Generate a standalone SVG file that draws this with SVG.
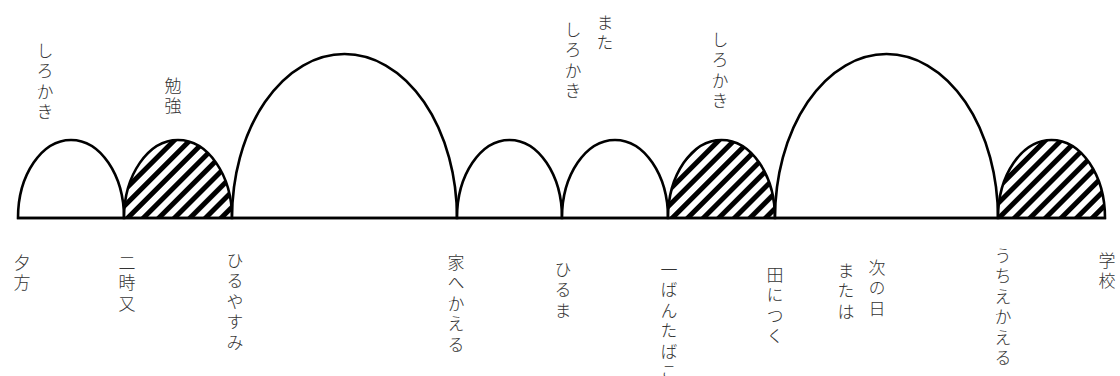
<svg xmlns="http://www.w3.org/2000/svg" width="1120" height="376" viewBox="0 0 1120 376">
<defs>
<pattern id="hatch" patternUnits="userSpaceOnUse" width="11" height="11" patternTransform="rotate(45)">
<rect x="0" y="0" width="11" height="11" fill="#fff"/>
<rect x="0" y="0" width="5" height="11" fill="#000"/>
</pattern>
<style>
.arch{fill:#fff;stroke:#000;stroke-width:2.6}
.hatched{fill:url(#hatch);stroke:#000;stroke-width:2.6}
.base{stroke:#000;stroke-width:2.6;fill:none}
.lbl{font-family:"Noto Sans CJK JP","Noto Sans CJK SC",sans-serif;font-size:17px;font-weight:300;fill:#333;writing-mode:vertical-rl;letter-spacing:3.5px}
</style>
</defs>
<g id="arches">
<g id="a1"><path class="arch" d="M18,218 A53,78 0 0 1 124,218 Z"/></g>
<g id="a2"><path class="hatched" d="M124,218 A54,78 0 0 1 232,218 Z"/></g>
<g id="a3"><path class="arch" d="M232,218 A112.5,164 0 0 1 457,218 Z"/></g>
<g id="a4"><path class="arch" d="M457,218 A52.5,78 0 0 1 562,218 Z"/></g>
<g id="a5"><path class="arch" d="M562,218 A53,78 0 0 1 668,218 Z"/></g>
<g id="a6"><path class="hatched" d="M668,218 A53.5,78 0 0 1 775,218 Z"/></g>
<g id="a7"><path class="arch" d="M775,218 A111.5,164 0 0 1 998,218 Z"/></g>
<g id="a8"><path class="hatched" d="M998,218 A53.5,78 0 0 1 1105,218 Z"/></g>
</g>
<g id="connectors">
<line class="base" x1="17" y1="218" x2="1106" y2="218"/>
</g>
<g id="top-labels">
<text class="lbl" x="45" y="42">しろかき</text>
<text class="lbl" x="173" y="77">勉強</text>
<text class="lbl" x="605" y="14">また</text>
<text class="lbl" x="573" y="21">しろかき</text>
<text class="lbl" x="720" y="31">しろかき</text>
</g>
<g id="bottom-labels">
<text class="lbl" x="22" y="254">夕方</text>
<text class="lbl" x="127" y="254">二時又</text>
<text class="lbl" x="235" y="252">ひるやすみ</text>
<text class="lbl" x="456" y="254">家へかえる</text>
<text class="lbl" x="563" y="261">ひるま</text>
<text class="lbl" x="669" y="261">一ばんたばこ</text>
<text class="lbl" x="775" y="266">田につく</text>
<text class="lbl" x="877" y="259">次の日</text>
<text class="lbl" x="846" y="262">または</text>
<text class="lbl" x="1003" y="247">うちえかえる</text>
<text class="lbl" x="1107" y="252">学校</text>
</g>
</svg>
